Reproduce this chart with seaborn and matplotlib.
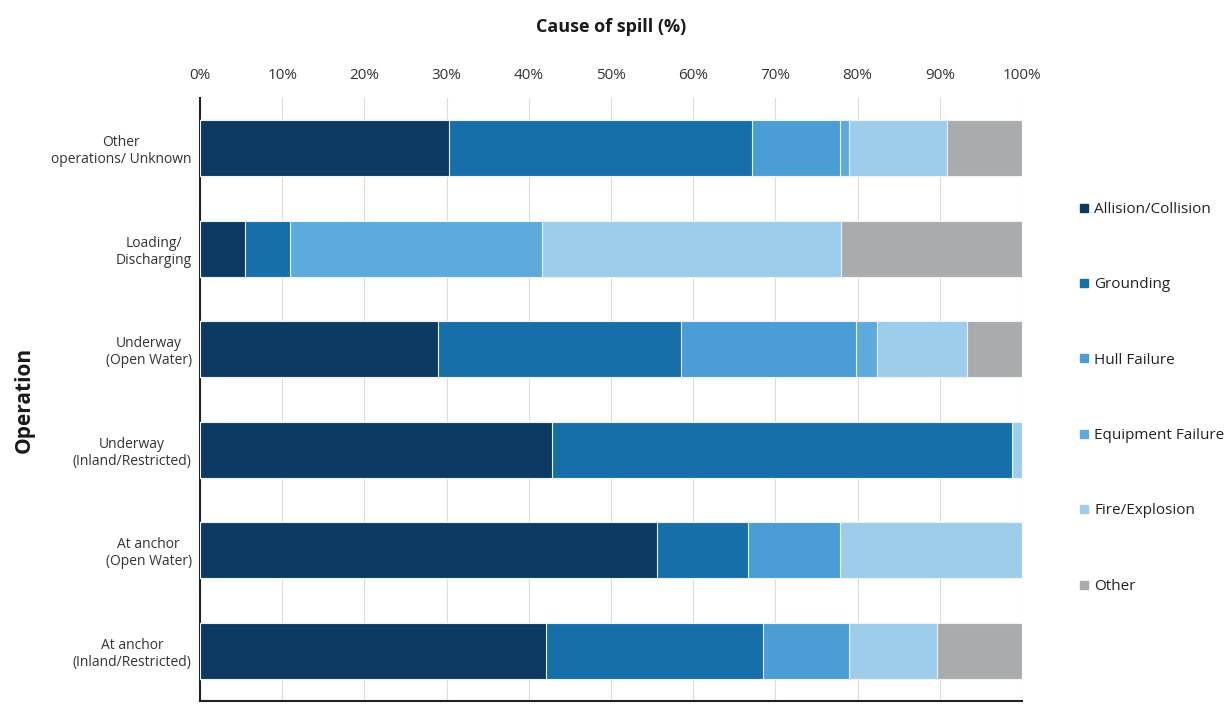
import matplotlib
matplotlib.use("Agg")
import matplotlib.pyplot as plt
from matplotlib.lines import Line2D
import numpy as np
import pandas as pd
import seaborn as sns

# ----------------------------------------------------------------------
# data (% of spills per operation)
# ----------------------------------------------------------------------
OPERATIONS = [
    "Other\noperations/ Unknown",
    "Loading/\nDischarging",
    "Underway\n(Open Water)",
    "Underway\n(Inland/Restricted)",
    "At anchor\n(Open Water)",
    "At anchor\n(Inland/Restricted)",
]
CAUSES = ["Allision/Collision", "Grounding", "Hull Failure",
          "Equipment Failure", "Fire/Explosion", "Other"]

allision = [30.3, 5.5, 29.0, 42.8, 55.6, 42.1]
grounding = [36.9, 5.5, 29.5, 56.0, 11.1, 26.4]
hull_failure = [10.6, 0.0, 21.3, 0.0, 11.1, 10.4]
equipment_failure = [1.1, 30.6, 2.5, 0.0, 0.0, 0.0]
fire_explosion = [12.0, 36.4, 11.0, 1.2, 22.2, 10.8]
other = [9.1, 22.0, 6.7, 0.0, 0.0, 10.3]

COLORS = ["#0d3a62", "#166fa8", "#4a9ed5", "#5eaadd", "#9dcdeb", "#a9abad"]
TICKS = [0, 10, 20, 30, 40, 50, 60, 70, 80, 90, 100]

OUTPUT_IMAGE_FILE = "out.png"


def main():
    df = pd.DataFrame({
        "operation": OPERATIONS,
        CAUSES[0]: allision,
        CAUSES[1]: grounding,
        CAUSES[2]: hull_failure,
        CAUSES[3]: equipment_failure,
        CAUSES[4]: fire_explosion,
        CAUSES[5]: other,
    })
    # cumulative sums -> stacked bars drawn back to front
    cum = df[CAUSES].cumsum(axis=1)
    cum["operation"] = df["operation"]

    sns.set_style("white")
    plt.rcParams["font.family"] = ["Open Sans", "DejaVu Sans"]

    fig = plt.figure(figsize=(12.32, 7.04), dpi=100)
    ax = fig.add_axes([200 / 1232, 1 - 701 / 704, 822 / 1232, 603 / 704])

    for cause, color in reversed(list(zip(CAUSES, COLORS))):
        sns.barplot(data=cum, x=cause, y="operation", orient="h",
                    color=color, saturation=1, width=0.56,
                    edgecolor="#eef3f7", linewidth=0.8, ax=ax, zorder=3)

    # --- axes styling ---
    ax.set_xlim(0, 100)
    ax.set_ylim(5.5, -0.5)
    ax.set_xticks(TICKS)
    ax.set_xticklabels([f"{t}%" for t in TICKS])
    ax.xaxis.tick_top()
    ax.xaxis.set_label_position("top")
    ax.set_xlabel("Cause of spill (%)", fontsize=13, fontweight="bold",
                  color="#1a1a1a", labelpad=26)
    ax.set_ylabel("Operation", fontsize=15, fontweight="bold",
                  color="#1a1a1a", labelpad=12)
    ax.tick_params(axis="x", length=0, pad=11, labelsize=11, labelcolor="#333333")
    ax.tick_params(axis="y", which="major", length=0, pad=6,
                   labelsize=10, labelcolor="#333333")
    for lab in ax.get_yticklabels():
        lab.set_horizontalalignment("right")
        lab.set_multialignment("center")
    ax.set_yticks(np.arange(-0.5, 6, 1), minor=True)
    ax.tick_params(axis="y", which="minor", length=4, width=1.2, color="#333333")

    ax.grid(True, axis="x", color="#dcdcdc", linewidth=0.8, zorder=0)
    ax.set_axisbelow(True)
    for side in ["top", "right"]:
        ax.spines[side].set_visible(False)
    for side in ["left", "bottom"]:
        ax.spines[side].set_color("#222222")
        ax.spines[side].set_linewidth(1.5)

    # --- legend ---
    handles = [Line2D([0], [0], marker="s", linestyle="none", markersize=6,
                      markerfacecolor=c, markeredgecolor=c) for c in COLORS]
    fig.legend(handles, CAUSES, loc="upper left",
               bbox_to_anchor=(1073 / 1232, 1 - 196 / 704), frameon=False,
               fontsize=11, labelspacing=3.95, handlelength=0.6,
               handletextpad=0.4, borderaxespad=0, labelcolor="#222222")

    fig.savefig(OUTPUT_IMAGE_FILE, dpi=100)


if __name__ == "__main__":
    main()
